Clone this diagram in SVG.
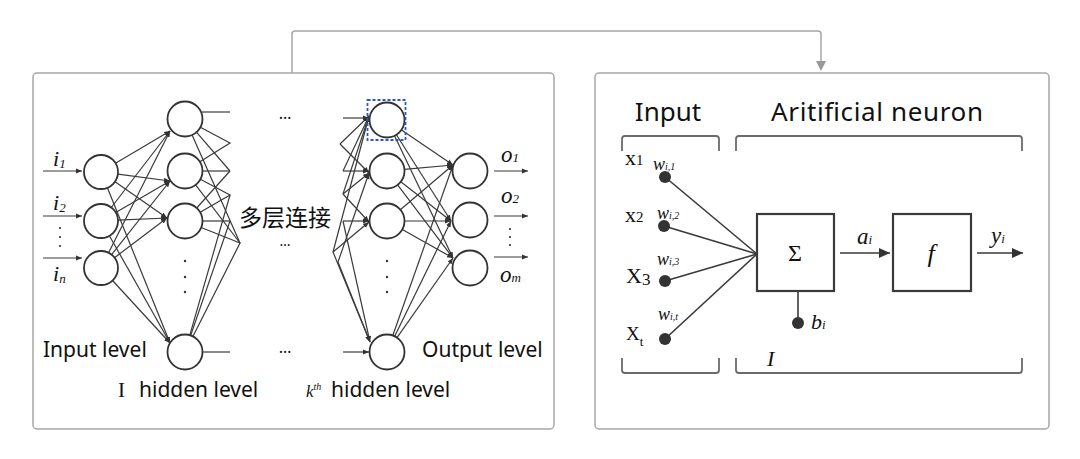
<svg xmlns="http://www.w3.org/2000/svg" width="1080" height="459" viewBox="0 0 1080 459">
<defs>
<style>
.panel{fill:#fff;stroke:#a6a6a6;stroke-width:1.5}
.nd{fill:#fff;stroke:#333;stroke-width:1.8}
.ln{fill:none;stroke:#3a3a3a;stroke-width:1.2}
.la{fill:none;stroke:#3a3a3a;stroke-width:1.2;marker-end:url(#ah)}
.rl{fill:none;stroke:#3a3a3a;stroke-width:1.6}
.box{fill:#fff;stroke:#3a3a3a;stroke-width:2.2}
.br{fill:none;stroke:#6b6b6b;stroke-width:1.8}
.dot{fill:#333}
.sans{font-family:"Noto Sans","Noto Sans CJK SC",sans-serif;fill:#111}
.ser{font-family:"Liberation Serif","DejaVu Serif",serif;fill:#111}
.it{font-family:"Liberation Serif","DejaVu Serif",serif;font-style:italic;fill:#111}
</style>
<marker id="ah" viewBox="0 0 6 6" refX="6" refY="3" markerWidth="6" markerHeight="6" markerUnits="userSpaceOnUse" orient="auto"><path d="M0,0.5 L6,3 L0,5.5z" fill="#333"/></marker>
<marker id="ahb" viewBox="0 0 11 10" refX="11" refY="5" markerWidth="11" markerHeight="10" markerUnits="userSpaceOnUse" orient="auto"><path d="M0,0 L11,5 L0,10z" fill="#333"/></marker>
</defs>

<g id="panel-left"><rect class="panel" x="33" y="73" width="521" height="356" rx="4"/></g>
<g id="panel-right"><rect class="panel" x="595" y="73" width="454" height="356" rx="4"/></g>

<g id="connectors">
<path d="M292,73 V34 Q292,31 295,31 H818 Q821,31 821,34 V61" fill="none" stroke="#a6a6a6" stroke-width="1.5"/>
<path d="M816,61 L826,61 L821,71z" fill="#999"/>
<path class="la" d="M43,171 H82"/>
<path class="la" d="M43,216 H82"/>
<path class="la" d="M43,258 H82"/>
<path class="la" d="M115.5,163.2 L170,131"/>
<path class="la" d="M117.9,174.2 L170,181"/>
<path class="la" d="M115,181.7 L167,218"/>
<path class="la" d="M107.4,187.8 L170,343"/>
<path class="la" d="M111.3,207.5 L170,131"/>
<path class="la" d="M115.7,212.5 L170,181"/>
<path class="la" d="M118,220.2 L167,218"/>
<path class="la" d="M109.4,235.8 L170,343"/>
<path class="la" d="M108.6,252.8 L170,131"/>
<path class="la" d="M111.6,254.7 L170,181"/>
<path class="la" d="M114.5,257.7 L167,218"/>
<path class="la" d="M112.5,280.5 L170,343"/>
<path class="ln" d="M202,112 H230"/>
<path class="ln" d="M200.4,127.2 L230,143 L199.9,161.8"/>
<path class="ln" d="M196.4,132.2 L230,171"/>
<path class="ln" d="M192.1,135 L240,243"/>
<path class="ln" d="M202.5,171 H230"/>
<path class="ln" d="M200.4,179.2 L230,195 L200.2,212.2"/>
<path class="ln" d="M195.6,184.9 L240,243"/>
<path class="ln" d="M202.5,221 H230"/>
<path class="ln" d="M201.2,227.5 L240,243 L192.9,336.4"/>
<path class="ln" d="M196.7,208 L230,171"/>
<path class="ln" d="M189.8,335.2 L230,195"/>
<path class="ln" d="M190.7,335.4 L230,221"/>
<path class="ln" d="M203,352 H230"/>
<path class="la" d="M343,118 H369"/>
<path class="la" d="M343,171 H369"/>
<path class="la" d="M343,221 H369"/>
<path class="la" d="M343,352 H369"/>
<path class="la" d="M340,144 L369,116"/>
<path class="la" d="M340,144 L369,173"/>
<path class="la" d="M343,171 L369,116"/>
<path class="la" d="M343,194 L369,116"/>
<path class="la" d="M343,194 L369,173"/>
<path class="la" d="M343,194 L369,222"/>
<path class="la" d="M343,221 L370,342"/>
<path class="la" d="M333,252 L369,116"/>
<path class="la" d="M333,252 L369,222"/>
<path class="la" d="M333,252 L370,342"/>
<path class="la" d="M338,262 L369,173"/>
<path class="la" d="M338,262 L370,342"/>
<path class="la" d="M401.5,129.9 L453,165"/>
<path class="la" d="M396.4,134.8 L451,221"/>
<path class="la" d="M394.5,135.8 L453,258"/>
<path class="la" d="M404.4,169.4 L453,165"/>
<path class="la" d="M400.8,181.8 L451,221"/>
<path class="la" d="M397.6,184.9 L453,258"/>
<path class="la" d="M400.3,209.7 L453,165"/>
<path class="la" d="M404.5,221 L451,221"/>
<path class="la" d="M402.3,229.6 L453,258"/>
<path class="la" d="M392.8,335.5 L453,165"/>
<path class="la" d="M394.7,336.3 L451,221"/>
<path class="la" d="M397,337.7 L453,258"/>
<path class="la" d="M494,171 H528"/>
<path class="la" d="M494,216 H528"/>
<path class="la" d="M494,257 H528"/>
<path class="rl" d="M665,177 L757,254"/>
<path class="rl" d="M664,226 L757,254"/>
<path class="rl" d="M665,281 L757,254"/>
<path class="rl" d="M665,339 L757,254"/>
<path class="rl" d="M798,291 V323"/>
<path class="rl" d="M840,253 H890" marker-end="url(#ahb)"/>
<path class="rl" d="M977,253 H1023" marker-end="url(#ahb)"/>
</g>

<g id="input-nodes">
<circle class="nd" cx="101" cy="172" r="17"/>
<circle class="nd" cx="101" cy="221" r="17"/>
<circle class="nd" cx="101" cy="268" r="17"/>
</g>
<g id="hidden1-nodes">
<circle class="nd" cx="185" cy="119" r="17.5"/>
<circle class="nd" cx="185" cy="171" r="17.5"/>
<circle class="nd" cx="185" cy="221" r="17.5"/>
<circle class="nd" cx="185" cy="352" r="17.5"/>
<circle class="dot" cx="185" cy="261" r="1.2"/>
<circle class="dot" cx="185" cy="277" r="1.2"/>
<circle class="dot" cx="185" cy="292" r="1.2"/>
</g>
<g id="hiddenk-nodes">
<circle class="nd" cx="387" cy="120" r="17.5"/>
<circle class="nd" cx="387" cy="171" r="17.5"/>
<circle class="nd" cx="387" cy="221" r="17.5"/>
<circle class="nd" cx="387" cy="352" r="17.5"/>
<circle class="dot" cx="387" cy="261" r="1.2"/>
<circle class="dot" cx="387" cy="277" r="1.2"/>
<circle class="dot" cx="387" cy="292" r="1.2"/>
<rect x="367.5" y="100" width="38" height="40" fill="none" stroke="#2f55c8" stroke-width="1.8" stroke-dasharray="3,2"/>
</g>
<g id="output-nodes">
<circle class="nd" cx="470" cy="171" r="17.5"/>
<circle class="nd" cx="470" cy="220" r="17.5"/>
<circle class="nd" cx="470" cy="268" r="17.5"/>
</g>

<g id="left-labels">
<text class="it" x="53" y="166" font-size="22">i<tspan font-size="13" dy="2">1</tspan></text>
<text class="it" x="53" y="210" font-size="22">i<tspan font-size="13" dy="2">2</tspan></text>
<text class="it" x="53" y="281" font-size="22">i<tspan font-size="13" dy="2">n</tspan></text>
<circle class="dot" cx="60" cy="228" r="1.1"/>
<circle class="dot" cx="60" cy="237" r="1.1"/>
<circle class="dot" cx="60" cy="246" r="1.1"/>
<text class="it" x="501" y="162" font-size="23">o<tspan font-size="13">1</tspan></text>
<text class="it" x="501" y="203" font-size="23">o<tspan font-size="13">2</tspan></text>
<text class="it" x="500" y="282" font-size="23">o<tspan font-size="13">m</tspan></text>
<circle class="dot" cx="510" cy="229" r="1.1"/>
<circle class="dot" cx="510" cy="237" r="1.1"/>
<circle class="dot" cx="510" cy="245" r="1.1"/>
<text class="sans" x="285" y="119" font-size="16" text-anchor="middle">…</text>
<text class="sans" x="285" y="246" font-size="14" text-anchor="middle">…</text>
<text class="sans" x="285" y="353" font-size="16" text-anchor="middle">…</text>
<text class="sans" x="285" y="226" font-size="23" text-anchor="middle">多层连接</text>
<text class="sans" x="43" y="357" font-size="21">Input level</text>
<text class="sans" x="422" y="357" font-size="21">Output level</text>
<text x="118" y="397" font-size="21"><tspan class="ser">I </tspan><tspan class="sans" x="139">hidden level</tspan></text>
<text x="306" y="397" font-size="21"><tspan class="it" font-size="17">k</tspan><tspan class="it" font-size="10" dy="-7">th</tspan><tspan class="sans" x="331" dy="7">hidden level</tspan></text>
</g>

<g id="brackets">
<path class="br" d="M622,151 V139 Q622,136 625,136 H716 Q719,136 719,139 V151"/>
<path class="br" d="M736,151 V139 Q736,136 739,136 H1019 Q1022,136 1022,139 V151"/>
<path class="br" d="M622,358 V370 Q622,373 625,373 H716 Q719,373 719,370 V358"/>
<path class="br" d="M736,358 V370 Q736,373 739,373 H1019 Q1022,373 1022,370 V358"/>
</g>
<g id="right-titles">
<text class="sans" x="668" y="121" font-size="26" text-anchor="middle">Input</text>
<text class="sans" x="877" y="121" font-size="26" text-anchor="middle" textLength="212">Aritificial neuron</text>
</g>
<g id="inputs-x">
<text class="ser" x="625" y="165" font-size="22">x<tspan font-size="15">1</tspan></text>
<text class="ser" x="625" y="222" font-size="22">x<tspan font-size="15">2</tspan></text>
<text class="ser" x="626" y="283" font-size="22">X<tspan font-size="17" dy="2">3</tspan></text>
<text class="ser" x="626" y="340" font-size="19">X<tspan font-size="13" dy="6">t</tspan></text>
</g>
<g id="weights">
<circle class="dot" cx="665" cy="177" r="6"/>
<circle class="dot" cx="664" cy="226" r="6"/>
<circle class="dot" cx="665" cy="281" r="6"/>
<circle class="dot" cx="665" cy="339" r="6"/>
<text class="it" x="653" y="170" font-size="18">w<tspan font-size="10">i,1</tspan></text>
<text class="it" x="657" y="219" font-size="18">w<tspan font-size="10">i,2</tspan></text>
<text class="it" x="657" y="265" font-size="18">w<tspan font-size="10">i,3</tspan></text>
<text class="it" x="658" y="320" font-size="18">w<tspan font-size="10">i,t</tspan></text>
</g>
<g id="sum-node">
<rect class="box" x="757" y="214" width="77" height="77"/>
<text class="ser" x="795" y="261" font-size="24" text-anchor="middle">Σ</text>
</g>
<g id="bias">
<circle class="dot" cx="798" cy="323" r="6"/>
<text class="it" x="811" y="329" font-size="22">b<tspan font-size="13">i</tspan></text>
</g>
<g id="act-node">
<rect class="box" x="893" y="214" width="78" height="77"/>
<text class="it" x="931" y="262" font-size="26" text-anchor="middle">f</text>
</g>
<g id="flow-labels">
<text class="it" x="857" y="244" font-size="23">a<tspan font-size="13">i</tspan></text>
<text class="it" x="991" y="243" font-size="23">y<tspan font-size="13">i</tspan></text>
<text class="it" x="767" y="366" font-size="22">I</text>
</g>
</svg>
